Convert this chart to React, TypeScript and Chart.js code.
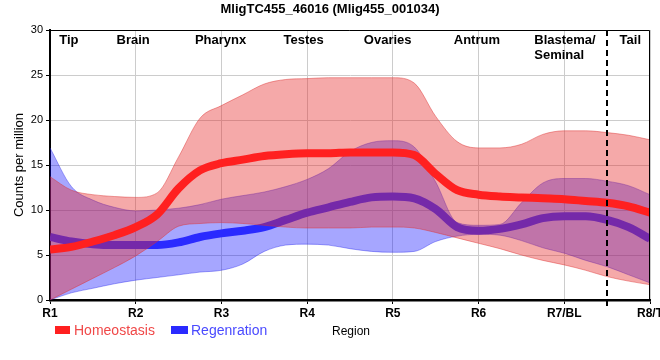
import React, { useEffect, useRef } from 'react';
import { Chart, registerables } from 'chart.js';

Chart.register(...registerables);

// Positions along the region axis (R1 = 1 ... R8/T = 8) at which values were read
const xPositions = [1, 1.25, 1.5, 1.75, 2, 2.25, 2.5, 2.75, 3, 3.25, 3.5, 3.75, 4, 4.25, 4.5, 4.75, 5, 5.25, 5.5, 5.75, 6, 6.25, 6.5, 6.75, 7, 7.25, 7.5, 7.75, 8];

// Homeostasis (red)
const homMean = [5.6, 5.9, 6.5, 7.2, 8.1, 9.5, 12.4, 14.4, 15.2, 15.6, 16.0, 16.2, 16.3, 16.3, 16.4, 16.4, 16.4, 16.1, 14.0, 12.2, 11.7, 11.5, 11.4, 11.3, 11.2, 11.0, 10.8, 10.4, 9.7];
const homUpper = [13.7, 12.2, 11.7, 11.5, 11.4, 11.9, 15.9, 20.2, 21.6, 22.8, 24.0, 24.5, 24.6, 24.7, 24.7, 24.7, 24.7, 24.1, 20.4, 17.6, 16.9, 16.9, 17.3, 18.4, 18.8, 18.8, 18.6, 18.3, 17.8];
const homLower = [0.0, 1.2, 2.4, 3.6, 4.9, 6.5, 8.2, 8.5, 8.6, 8.5, 8.3, 8.1, 8.0, 8.0, 8.0, 8.1, 8.1, 8.0, 7.5, 6.9, 6.3, 5.7, 5.0, 4.4, 3.9, 3.3, 2.6, 2.1, 1.7];

// Regeneration (blue)
const regMean = [7.0, 6.5, 6.2, 6.1, 6.1, 6.1, 6.4, 7.0, 7.4, 7.7, 8.1, 8.9, 9.7, 10.3, 10.9, 11.4, 11.5, 11.3, 10.1, 8.1, 7.7, 7.9, 8.4, 9.1, 9.3, 9.3, 8.9, 8.1, 6.8];
const regUpper = [16.9, 12.6, 11.1, 10.3, 9.9, 10.0, 10.2, 10.6, 11.2, 11.6, 12.0, 12.6, 13.4, 14.6, 16.5, 17.5, 17.7, 17.0, 13.1, 8.6, 8.3, 8.4, 10.8, 13.0, 13.5, 13.5, 13.2, 12.7, 11.7];
const regLower = [0.0, 0.8, 1.3, 1.8, 2.2, 2.5, 2.8, 3.1, 3.3, 4.0, 5.4, 6.1, 6.2, 6.1, 5.7, 5.4, 5.3, 5.4, 6.5, 7.1, 7.3, 7.2, 6.6, 5.8, 5.2, 4.4, 3.7, 2.8, 1.9];

const xTickLabels = ['R1', 'R2', 'R3', 'R4', 'R5', 'R6', 'R7/BL', 'R8/T'];
const regionNames = ['Tip', 'Brain', 'Pharynx', 'Testes', 'Ovaries', 'Antrum', 'Blastema/\nSeminal', 'Tail'];
const regionNamePos = [1.22, 1.97, 2.99, 3.96, 4.94, 5.98, 6.65, 7.77];
const regionNameAlign = ['center', 'center', 'center', 'center', 'center', 'center', 'left', 'center'];
const dividerPos = 7.5;

const seriesNames = ['Homeostasis', 'Regenration'];
const titleText = 'MligTC455_46016 (Mlig455_001034)';
const yTitle = 'Counts per million';
const xTitle = 'Region';

const FONT = "'Liberation Sans', Arial, sans-serif";

const RED_LINE = '#ff2020';
const RED_FILL = 'rgba(230,40,40,0.4)';
const RED_EDGE = 'rgba(220,50,50,0.45)';
const BLUE_LINE = '#2a2aff';
const BLUE_FILL = 'rgba(0,0,255,0.35)';
const BLUE_EDGE = 'rgba(40,40,230,0.4)';

function pts(vals: number[]) {
  return vals.map((v, i) => ({ x: xPositions[i], y: v }));
}

const overlayPlugin = {
  id: 'overlay',
  afterDraw(chart: any) {
    const ctx = chart.ctx as CanvasRenderingContext2D;
    const { left, right, top, bottom } = chart.chartArea;
    const xs = chart.scales.x;
    ctx.save();
    // top & right border
    ctx.strokeStyle = '#000';
    ctx.lineWidth = 1;
    ctx.beginPath();
    ctx.moveTo(left, top + 0.5);
    ctx.lineTo(right - 0.5, top + 0.5);
    ctx.lineTo(right - 0.5, bottom);
    ctx.stroke();
    // dashed divider
    const dx = Math.round(xs.getPixelForValue(dividerPos));
    ctx.setLineDash([6, 4]);
    ctx.lineWidth = 2;
    ctx.beginPath();
    ctx.moveTo(dx, top);
    ctx.lineTo(dx, bottom + 6);
    ctx.stroke();
    ctx.setLineDash([]);

    // region names
    ctx.fillStyle = '#000';
    ctx.font = `bold 13px ${FONT}`;
    ctx.textBaseline = 'middle';
    regionNames.forEach((name, i) => {
      const px = xs.getPixelForValue(regionNamePos[i]);
      ctx.textAlign = regionNameAlign[i] as CanvasTextAlign;
      name.split('\n').forEach((line, j) => {
        ctx.fillText(line, px, 40 + j * 15);
      });
    });

    // title
    ctx.textAlign = 'center';
    ctx.font = `bold 13px ${FONT}`;
    ctx.fillText(titleText, 330, 9);

    // y title
    ctx.save();
    ctx.translate(19, (top + bottom) / 2);
    ctx.rotate(-Math.PI / 2);
    ctx.font = `13px ${FONT}`;
    ctx.textAlign = 'center';
    ctx.fillText(yTitle, 0, 0);
    ctx.restore();

    // legend
    ctx.font = `14px ${FONT}`;
    ctx.textAlign = 'left';
    ctx.fillStyle = RED_LINE;
    ctx.fillRect(55, 326, 15, 8);
    ctx.fillStyle = '#f04848';
    ctx.fillText(seriesNames[0], 74, 331);
    ctx.fillStyle = BLUE_LINE;
    ctx.fillRect(171, 326, 17, 8);
    ctx.fillStyle = '#4a4aff';
    ctx.fillText(seriesNames[1], 191, 331);

    // x title
    ctx.fillStyle = '#000';
    ctx.font = `12px ${FONT}`;
    ctx.fillText(xTitle, 332, 332);
    ctx.restore();
  },
};

export default function App() {
  const canvasRef = useRef<HTMLCanvasElement | null>(null);

  useEffect(() => {
    document.body.style.margin = '0';
    const canvas = canvasRef.current;
    if (!canvas) return;
    Chart.defaults.font.family = FONT;
    const chart = new Chart(canvas, {
      type: 'line',
      data: {
        datasets: [
          {
            label: seriesNames[0],
            data: pts(homMean),
            borderColor: RED_LINE,
            borderWidth: 8,
            pointRadius: 0,
            fill: false,
            cubicInterpolationMode: 'monotone',
            order: 1,
          },
          {
            label: 'homUpper',
            data: pts(homUpper),
            borderColor: RED_EDGE,
            borderWidth: 1,
            backgroundColor: RED_FILL,
            pointRadius: 0,
            fill: 2,
            cubicInterpolationMode: 'monotone',
            order: 2,
          },
          {
            label: 'homLower',
            data: pts(homLower),
            borderColor: RED_EDGE,
            borderWidth: 1,
            pointRadius: 0,
            fill: false,
            cubicInterpolationMode: 'monotone',
            order: 2,
          },
          {
            label: seriesNames[1],
            data: pts(regMean),
            borderColor: BLUE_LINE,
            borderWidth: 8,
            pointRadius: 0,
            fill: false,
            cubicInterpolationMode: 'monotone',
            order: 3,
          },
          {
            label: 'regUpper',
            data: pts(regUpper),
            borderColor: BLUE_EDGE,
            borderWidth: 1,
            backgroundColor: BLUE_FILL,
            pointRadius: 0,
            fill: 5,
            cubicInterpolationMode: 'monotone',
            order: 4,
          },
          {
            label: 'regLower',
            data: pts(regLower),
            borderColor: BLUE_EDGE,
            borderWidth: 1,
            pointRadius: 0,
            fill: false,
            cubicInterpolationMode: 'monotone',
            order: 4,
          },
        ],
      } as any,
      options: {
        animation: false,
        responsive: false,
        maintainAspectRatio: false,
        layout: { padding: { top: 30, right: 10, left: 0, bottom: 0 } },
        plugins: {
          legend: { display: false },
          title: { display: false },
          tooltip: { enabled: false },
        },
        scales: {
          x: {
            type: 'linear',
            min: 1,
            max: 8,
            ticks: {
              stepSize: 1,
              autoSkip: false,
              maxRotation: 0,
              padding: 2,
              color: '#000',
              font: { size: 12, weight: 'bold', family: FONT },
              callback: (v: any) => xTickLabels[Math.round(Number(v)) - 1] ?? '',
            },
            grid: { color: '#cccccc', tickColor: '#000', tickLength: 4, lineWidth: 1 },
            border: { color: '#000', width: 2.5 },
            afterFit: (s: any) => {
              s.height = 60;
              s.paddingLeft = 0;
              s.paddingRight = 0;
            },
          },
          y: {
            min: 0,
            max: 30,
            ticks: {
              stepSize: 5,
              padding: 3,
              color: '#000',
              font: { size: 11, family: FONT },
            },
            grid: { color: '#cccccc', tickColor: '#000', tickLength: 4, lineWidth: 1 },
            border: { color: '#000', width: 2 },
            afterFit: (s: any) => {
              s.width = 50;
              s.paddingTop = 0;
              s.paddingBottom = 0;
            },
          },
        },
      } as any,
      plugins: [overlayPlugin],
    });
    return () => chart.destroy();
  }, []);

  return (
    <div style={{ width: 660, height: 360 }}>
      <canvas ref={canvasRef} width={660} height={360} style={{ display: 'block' }} />
    </div>
  );
}
